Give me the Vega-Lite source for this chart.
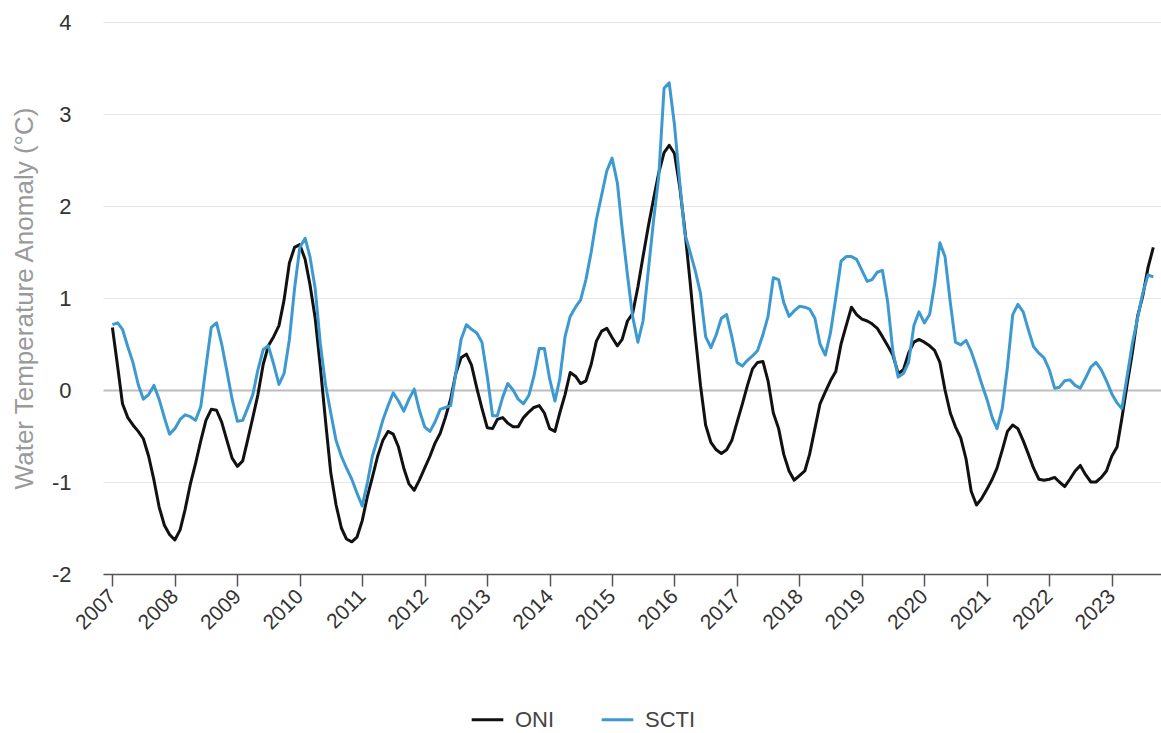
{
  "$schema": "https://vega.github.io/schema/vega-lite/v6.json",
  "width": 1058,
  "height": 552,
  "autosize": {"type": "none"},
  "padding": {"left": 103, "top": 22, "right": 0, "bottom": 159},
  "background": "#ffffff",
  "config": {
    "font": "Liberation Sans",
    "view": {"stroke": null}
  },
  "data": {
    "values": [
      {"d":"2007-01-01","ONI":0.68,"SCTI":0.71},{"d":"2007-02-01","ONI":0.25,"SCTI":0.73},{"d":"2007-03-01","ONI":-0.15,"SCTI":0.66},{"d":"2007-04-01","ONI":-0.30,"SCTI":0.47},{"d":"2007-05-01","ONI":-0.38,"SCTI":0.30},{"d":"2007-06-01","ONI":-0.45,"SCTI":0.06},{"d":"2007-07-01","ONI":-0.53,"SCTI":-0.10},{"d":"2007-08-01","ONI":-0.72,"SCTI":-0.05},{"d":"2007-09-01","ONI":-0.98,"SCTI":0.05},{"d":"2007-10-01","ONI":-1.27,"SCTI":-0.10},{"d":"2007-11-01","ONI":-1.47,"SCTI":-0.30},{"d":"2007-12-01","ONI":-1.57,"SCTI":-0.48},
      {"d":"2008-01-01","ONI":-1.63,"SCTI":-0.42},{"d":"2008-02-01","ONI":-1.52,"SCTI":-0.32},{"d":"2008-03-01","ONI":-1.30,"SCTI":-0.27},{"d":"2008-04-01","ONI":-1.02,"SCTI":-0.29},{"d":"2008-05-01","ONI":-0.80,"SCTI":-0.33},{"d":"2008-06-01","ONI":-0.55,"SCTI":-0.18},{"d":"2008-07-01","ONI":-0.33,"SCTI":0.25},{"d":"2008-08-01","ONI":-0.21,"SCTI":0.68},{"d":"2008-09-01","ONI":-0.22,"SCTI":0.73},{"d":"2008-10-01","ONI":-0.35,"SCTI":0.50},{"d":"2008-11-01","ONI":-0.55,"SCTI":0.20},{"d":"2008-12-01","ONI":-0.74,"SCTI":-0.10},
      {"d":"2009-01-01","ONI":-0.83,"SCTI":-0.34},{"d":"2009-02-01","ONI":-0.77,"SCTI":-0.33},{"d":"2009-03-01","ONI":-0.55,"SCTI":-0.20},{"d":"2009-04-01","ONI":-0.30,"SCTI":-0.05},{"d":"2009-05-01","ONI":-0.05,"SCTI":0.22},{"d":"2009-06-01","ONI":0.28,"SCTI":0.44},{"d":"2009-07-01","ONI":0.48,"SCTI":0.48},{"d":"2009-08-01","ONI":0.58,"SCTI":0.28},{"d":"2009-09-01","ONI":0.70,"SCTI":0.06},{"d":"2009-10-01","ONI":0.98,"SCTI":0.18},{"d":"2009-11-01","ONI":1.38,"SCTI":0.55},{"d":"2009-12-01","ONI":1.55,"SCTI":1.10},
      {"d":"2010-01-01","ONI":1.58,"SCTI":1.55},{"d":"2010-02-01","ONI":1.42,"SCTI":1.65},{"d":"2010-03-01","ONI":1.15,"SCTI":1.45},{"d":"2010-04-01","ONI":0.78,"SCTI":1.10},{"d":"2010-05-01","ONI":0.25,"SCTI":0.50},{"d":"2010-06-01","ONI":-0.35,"SCTI":0.05},{"d":"2010-07-01","ONI":-0.90,"SCTI":-0.25},{"d":"2010-08-01","ONI":-1.25,"SCTI":-0.55},{"d":"2010-09-01","ONI":-1.50,"SCTI":-0.72},{"d":"2010-10-01","ONI":-1.62,"SCTI":-0.85},{"d":"2010-11-01","ONI":-1.65,"SCTI":-0.97},{"d":"2010-12-01","ONI":-1.60,"SCTI":-1.12},
      {"d":"2011-01-01","ONI":-1.42,"SCTI":-1.26},{"d":"2011-02-01","ONI":-1.15,"SCTI":-1.00},{"d":"2011-03-01","ONI":-0.95,"SCTI":-0.72},{"d":"2011-04-01","ONI":-0.72,"SCTI":-0.53},{"d":"2011-05-01","ONI":-0.55,"SCTI":-0.33},{"d":"2011-06-01","ONI":-0.45,"SCTI":-0.17},{"d":"2011-07-01","ONI":-0.48,"SCTI":-0.03},{"d":"2011-08-01","ONI":-0.62,"SCTI":-0.12},{"d":"2011-09-01","ONI":-0.85,"SCTI":-0.23},{"d":"2011-10-01","ONI":-1.02,"SCTI":-0.10},{"d":"2011-11-01","ONI":-1.09,"SCTI":0.01},{"d":"2011-12-01","ONI":-0.98,"SCTI":-0.22},
      {"d":"2012-01-01","ONI":-0.85,"SCTI":-0.40},{"d":"2012-02-01","ONI":-0.72,"SCTI":-0.45},{"d":"2012-03-01","ONI":-0.58,"SCTI":-0.35},{"d":"2012-04-01","ONI":-0.47,"SCTI":-0.21},{"d":"2012-05-01","ONI":-0.30,"SCTI":-0.19},{"d":"2012-06-01","ONI":-0.10,"SCTI":-0.17},{"d":"2012-07-01","ONI":0.18,"SCTI":0.18},{"d":"2012-08-01","ONI":0.35,"SCTI":0.55},{"d":"2012-09-01","ONI":0.39,"SCTI":0.71},{"d":"2012-10-01","ONI":0.27,"SCTI":0.66},{"d":"2012-11-01","ONI":0.02,"SCTI":0.62},{"d":"2012-12-01","ONI":-0.20,"SCTI":0.52},
      {"d":"2013-01-01","ONI":-0.41,"SCTI":0.15},{"d":"2013-02-01","ONI":-0.42,"SCTI":-0.28},{"d":"2013-03-01","ONI":-0.32,"SCTI":-0.28},{"d":"2013-04-01","ONI":-0.30,"SCTI":-0.08},{"d":"2013-05-01","ONI":-0.36,"SCTI":0.07},{"d":"2013-06-01","ONI":-0.40,"SCTI":0.00},{"d":"2013-07-01","ONI":-0.40,"SCTI":-0.10},{"d":"2013-08-01","ONI":-0.30,"SCTI":-0.15},{"d":"2013-09-01","ONI":-0.24,"SCTI":-0.06},{"d":"2013-10-01","ONI":-0.19,"SCTI":0.15},{"d":"2013-11-01","ONI":-0.17,"SCTI":0.45},{"d":"2013-12-01","ONI":-0.25,"SCTI":0.45},
      {"d":"2014-01-01","ONI":-0.42,"SCTI":0.12},{"d":"2014-02-01","ONI":-0.45,"SCTI":-0.12},{"d":"2014-03-01","ONI":-0.25,"SCTI":0.12},{"d":"2014-04-01","ONI":-0.05,"SCTI":0.58},{"d":"2014-05-01","ONI":0.19,"SCTI":0.80},{"d":"2014-06-01","ONI":0.15,"SCTI":0.90},{"d":"2014-07-01","ONI":0.07,"SCTI":0.98},{"d":"2014-08-01","ONI":0.10,"SCTI":1.20},{"d":"2014-09-01","ONI":0.28,"SCTI":1.50},{"d":"2014-10-01","ONI":0.53,"SCTI":1.85},{"d":"2014-11-01","ONI":0.64,"SCTI":2.12},{"d":"2014-12-01","ONI":0.67,"SCTI":2.38},
      {"d":"2015-01-01","ONI":0.57,"SCTI":2.52},{"d":"2015-02-01","ONI":0.48,"SCTI":2.25},{"d":"2015-03-01","ONI":0.55,"SCTI":1.75},{"d":"2015-04-01","ONI":0.75,"SCTI":1.25},{"d":"2015-05-01","ONI":0.83,"SCTI":0.80},{"d":"2015-06-01","ONI":1.12,"SCTI":0.52},{"d":"2015-07-01","ONI":1.45,"SCTI":0.75},{"d":"2015-08-01","ONI":1.78,"SCTI":1.30},{"d":"2015-09-01","ONI":2.08,"SCTI":1.85},{"d":"2015-10-01","ONI":2.36,"SCTI":2.32},{"d":"2015-11-01","ONI":2.58,"SCTI":3.28},{"d":"2015-12-01","ONI":2.66,"SCTI":3.34},
      {"d":"2016-01-01","ONI":2.57,"SCTI":2.88},{"d":"2016-02-01","ONI":2.20,"SCTI":2.25},{"d":"2016-03-01","ONI":1.75,"SCTI":1.70},{"d":"2016-04-01","ONI":1.18,"SCTI":1.50},{"d":"2016-05-01","ONI":0.60,"SCTI":1.30},{"d":"2016-06-01","ONI":0.05,"SCTI":1.05},{"d":"2016-07-01","ONI":-0.38,"SCTI":0.58},{"d":"2016-08-01","ONI":-0.57,"SCTI":0.46},{"d":"2016-09-01","ONI":-0.65,"SCTI":0.60},{"d":"2016-10-01","ONI":-0.69,"SCTI":0.78},{"d":"2016-11-01","ONI":-0.65,"SCTI":0.82},{"d":"2016-12-01","ONI":-0.55,"SCTI":0.58},
      {"d":"2017-01-01","ONI":-0.35,"SCTI":0.30},{"d":"2017-02-01","ONI":-0.15,"SCTI":0.26},{"d":"2017-03-01","ONI":0.04,"SCTI":0.32},{"d":"2017-04-01","ONI":0.23,"SCTI":0.37},{"d":"2017-05-01","ONI":0.30,"SCTI":0.43},{"d":"2017-06-01","ONI":0.31,"SCTI":0.60},{"d":"2017-07-01","ONI":0.10,"SCTI":0.80},{"d":"2017-08-01","ONI":-0.25,"SCTI":1.22},{"d":"2017-09-01","ONI":-0.42,"SCTI":1.20},{"d":"2017-10-01","ONI":-0.70,"SCTI":0.95},{"d":"2017-11-01","ONI":-0.88,"SCTI":0.80},{"d":"2017-12-01","ONI":-0.98,"SCTI":0.86},
      {"d":"2018-01-01","ONI":-0.93,"SCTI":0.91},{"d":"2018-02-01","ONI":-0.88,"SCTI":0.90},{"d":"2018-03-01","ONI":-0.70,"SCTI":0.88},{"d":"2018-04-01","ONI":-0.42,"SCTI":0.78},{"d":"2018-05-01","ONI":-0.15,"SCTI":0.50},{"d":"2018-06-01","ONI":-0.02,"SCTI":0.38},{"d":"2018-07-01","ONI":0.10,"SCTI":0.62},{"d":"2018-08-01","ONI":0.20,"SCTI":1.00},{"d":"2018-09-01","ONI":0.50,"SCTI":1.40},{"d":"2018-10-01","ONI":0.70,"SCTI":1.45},{"d":"2018-11-01","ONI":0.90,"SCTI":1.45},{"d":"2018-12-01","ONI":0.82,"SCTI":1.42},
      {"d":"2019-01-01","ONI":0.77,"SCTI":1.30},{"d":"2019-02-01","ONI":0.75,"SCTI":1.18},{"d":"2019-03-01","ONI":0.72,"SCTI":1.20},{"d":"2019-04-01","ONI":0.67,"SCTI":1.28},{"d":"2019-05-01","ONI":0.58,"SCTI":1.30},{"d":"2019-06-01","ONI":0.48,"SCTI":0.95},{"d":"2019-07-01","ONI":0.38,"SCTI":0.42},{"d":"2019-08-01","ONI":0.18,"SCTI":0.14},{"d":"2019-09-01","ONI":0.22,"SCTI":0.18},{"d":"2019-10-01","ONI":0.40,"SCTI":0.30},{"d":"2019-11-01","ONI":0.52,"SCTI":0.70},{"d":"2019-12-01","ONI":0.55,"SCTI":0.85},
      {"d":"2020-01-01","ONI":0.52,"SCTI":0.73},{"d":"2020-02-01","ONI":0.48,"SCTI":0.82},{"d":"2020-03-01","ONI":0.43,"SCTI":1.15},{"d":"2020-04-01","ONI":0.30,"SCTI":1.60},{"d":"2020-05-01","ONI":0.00,"SCTI":1.45},{"d":"2020-06-01","ONI":-0.25,"SCTI":0.95},{"d":"2020-07-01","ONI":-0.40,"SCTI":0.52},{"d":"2020-08-01","ONI":-0.52,"SCTI":0.49},{"d":"2020-09-01","ONI":-0.75,"SCTI":0.54},{"d":"2020-10-01","ONI":-1.10,"SCTI":0.42},{"d":"2020-11-01","ONI":-1.25,"SCTI":0.25},{"d":"2020-12-01","ONI":-1.18,"SCTI":0.07},
      {"d":"2021-01-01","ONI":-1.08,"SCTI":-0.10},{"d":"2021-02-01","ONI":-0.97,"SCTI":-0.30},{"d":"2021-03-01","ONI":-0.85,"SCTI":-0.42},{"d":"2021-04-01","ONI":-0.65,"SCTI":-0.20},{"d":"2021-05-01","ONI":-0.45,"SCTI":0.25},{"d":"2021-06-01","ONI":-0.38,"SCTI":0.82},{"d":"2021-07-01","ONI":-0.42,"SCTI":0.93},{"d":"2021-08-01","ONI":-0.55,"SCTI":0.85},{"d":"2021-09-01","ONI":-0.70,"SCTI":0.65},{"d":"2021-10-01","ONI":-0.85,"SCTI":0.47},{"d":"2021-11-01","ONI":-0.97,"SCTI":0.40},{"d":"2021-12-01","ONI":-0.98,"SCTI":0.35},
      {"d":"2022-01-01","ONI":-0.97,"SCTI":0.22},{"d":"2022-02-01","ONI":-0.95,"SCTI":0.02},{"d":"2022-03-01","ONI":-1.00,"SCTI":0.03},{"d":"2022-04-01","ONI":-1.05,"SCTI":0.10},{"d":"2022-05-01","ONI":-0.97,"SCTI":0.11},{"d":"2022-06-01","ONI":-0.88,"SCTI":0.05},{"d":"2022-07-01","ONI":-0.82,"SCTI":0.02},{"d":"2022-08-01","ONI":-0.92,"SCTI":0.13},{"d":"2022-09-01","ONI":-1.00,"SCTI":0.25},{"d":"2022-10-01","ONI":-1.00,"SCTI":0.30},{"d":"2022-11-01","ONI":-0.95,"SCTI":0.22},{"d":"2022-12-01","ONI":-0.88,"SCTI":0.10},
      {"d":"2023-01-01","ONI":-0.72,"SCTI":-0.04},{"d":"2023-02-01","ONI":-0.62,"SCTI":-0.14},{"d":"2023-03-01","ONI":-0.31,"SCTI":-0.20},{"d":"2023-04-01","ONI":0.06,"SCTI":0.15},{"d":"2023-05-01","ONI":0.40,"SCTI":0.50},{"d":"2023-06-01","ONI":0.80,"SCTI":0.78},{"d":"2023-07-01","ONI":1.02,"SCTI":1.05},{"d":"2023-08-01","ONI":1.33,"SCTI":1.25},{"d":"2023-09-01","ONI":1.55,"SCTI":1.23}
    ]
  },
  "transform": [{"fold": ["ONI", "SCTI"], "as": ["series", "value"]}],
  "mark": {"type": "line", "strokeWidth": 3, "strokeJoin": "round"},
  "encoding": {
    "x": {
      "field": "d",
      "type": "temporal",
      "scale": {"domain": [{"year": 2006, "month": 11, "date": 7}, {"year": 2023, "month": 10, "date": 16}]},
      "axis": {
        "title": null,
        "format": "%Y",
        "tickCount": {"interval": "year", "step": 1},
        "grid": false,
        "domainColor": "#555555",
        "domainWidth": 1.5,
        "tickColor": "#555555",
        "tickWidth": 1.5,
        "tickSize": 12,
        "labelAngle": -45,
        "labelAlign": "right",
        "labelBaseline": "middle",
        "labelFontSize": 21,
        "labelColor": "#333333",
        "labelPadding": 7,
        "labelOverlap": false,
        "labelFlush": false
      }
    },
    "y": {
      "field": "value",
      "type": "quantitative",
      "scale": {"domain": [-2, 4], "nice": false, "zero": false},
      "axis": {
        "title": "Water Temperature Anomaly (°C)",
        "titleColor": "#9a9a9a",
        "titleFontSize": 26,
        "titleFontWeight": "normal",
        "titlePadding": 14,
        "values": [-2, -1, 0, 1, 2, 3, 4],
        "labelExpr": "'' + datum.value",
        "domain": false,
        "ticks": false,
        "labelFontSize": 22,
        "labelColor": "#333333",
        "labelPadding": 32,
        "grid": true,
        "gridColor": {"condition": {"test": "datum.value === 0", "value": "#bdbdbd"}, "value": "#e6e6e6"},
        "gridWidth": {"condition": {"test": "datum.value === 0", "value": 2}, "value": 1}
      }
    },
    "color": {
      "field": "series",
      "type": "nominal",
      "scale": {"domain": ["ONI", "SCTI"], "range": ["#111111", "#3d9ad1"]},
      "legend": {
        "title": null,
        "orient": "none",
        "direction": "horizontal",
        "legendX": 367,
        "legendY": 680,
        "symbolType": "stroke",
        "symbolSize": 1000,
        "symbolStrokeWidth": 3,
        "labelFontSize": 22,
        "labelColor": "#444444",
        "labelOffset": 10,
        "columnPadding": 40
      }
    }
  }
}
